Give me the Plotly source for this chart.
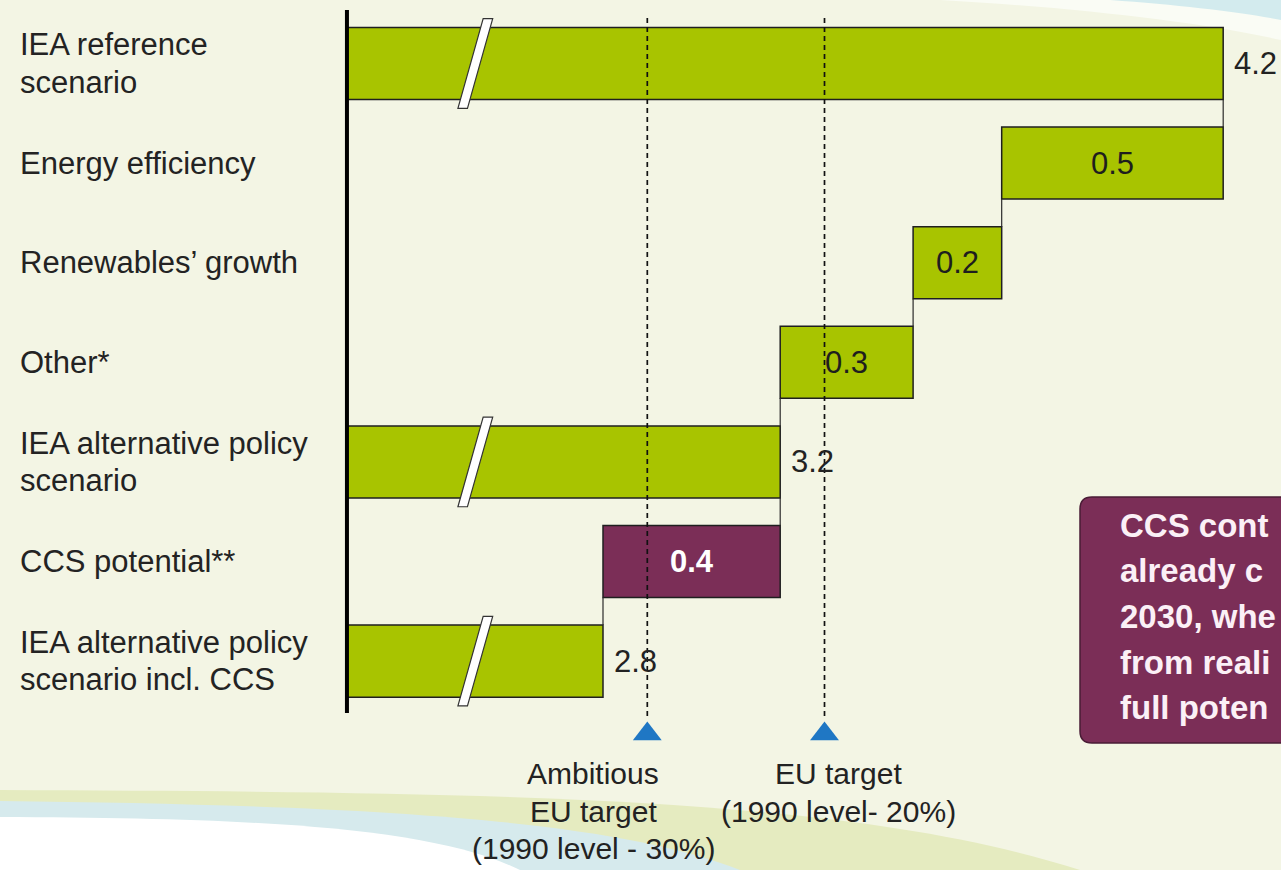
import plotly.graph_objects as go

# ---------------- data ----------------
categories = [
    "IEA reference<br>scenario",
    "Energy efficiency",
    "Renewables’ growth",
    "Other*",
    "IEA alternative policy<br>scenario",
    "CCS potential**",
    "IEA alternative policy<br>scenario incl. CCS",
]
step_kind = ["total", "delta", "delta", "delta", "total", "delta", "total"]
values = [4.2, 0.5, 0.2, 0.3, 3.2, 0.4, 2.8]
value_labels = ["4.2", "0.5", "0.2", "0.3", "3.2", "0.4", "2.8"]
targets = [2.9, 3.3]
target_labels = [
    ["Ambitious", "EU target", "(1990 level - 30%)"],
    ["EU target", "(1990 level- 20%)"],
]
note_lines = ["CCS cont", "already c", "2030, whe", "from reali", "full poten"]

# ---------------- style / layout constants ----------------
W, H = 1281, 870
FONT = "Liberation Sans, Arial, Helvetica, sans-serif"
GREEN = "#A8C400"
PURPLE = "#7B2E57"
BAR_COLORS = [GREEN, GREEN, GREEN, GREEN, GREEN, PURPLE, GREEN]
LABEL_COLORS = ["#1e1e1e"] * 5 + ["#ffffff", "#1e1e1e"]
BG = "#F3F5E4"
AXIS_START = 2.222          # broken axis start
X_RANGE = [1.4388, 4.3305]
Y_RANGE = [8.097, -0.6376]
BAR_W = 0.723
BREAK_X = 2.51


def px(x):
    return x / W


def py(y):
    return 1 - y / H


# ---------------- waterfall geometry ----------------
pos = list(range(len(categories)))
bases, lengths, levels = [], [], []
running = None
for kind, v in zip(step_kind, values):
    if kind == "total":
        bases.append(AXIS_START)
        lengths.append(v - AXIS_START)
        running = v
    else:
        running = running - v
        bases.append(running)
        lengths.append(v)
    levels.append(running)

fig = go.Figure()

fig.add_trace(go.Bar(
    orientation="h", y=pos, x=lengths, base=bases, width=BAR_W,
    marker=dict(color=BAR_COLORS, line=dict(color="#1f1f1f", width=1.5)),
    hoverinfo="skip", showlegend=False,
))

# connectors between steps
cx, cy = [], []
for i in range(len(pos) - 1):
    cx += [levels[i], levels[i], None]
    cy += [pos[i] + BAR_W / 2, pos[i + 1] - BAR_W / 2, None]
fig.add_trace(go.Scatter(x=cx, y=cy, mode="lines",
                         line=dict(color="#2a2a2a", width=1.2),
                         hoverinfo="skip", showlegend=False))

# target triangles
fig.add_trace(go.Scatter(x=targets, y=[6.732] * len(targets), mode="markers",
                         marker=dict(symbol="triangle-up", size=25, color="#1F77C4"),
                         hoverinfo="skip", showlegend=False))

shapes = []
# background decorations
shapes += [
    dict(type="path", xref="paper", yref="paper", layer="below", line=dict(width=0),
         fillcolor="#FAFCF5",
         path=f"M {px(940)},{py(0)} C {px(1080)},{py(8)} {px(1200)},{py(22)} {px(1281)},{py(40)} L {px(1281)},{py(0)} Z"),
    dict(type="path", xref="paper", yref="paper", layer="below", line=dict(width=0),
         fillcolor="#D3EBEE",
         path=f"M {px(1110)},{py(0)} C {px(1180)},{py(5)} {px(1240)},{py(12)} {px(1281)},{py(20)} L {px(1281)},{py(0)} Z"),
    dict(type="path", xref="paper", yref="paper", layer="below", line=dict(width=0),
         fillcolor="#E5EBC0",
         path=f"M {px(0)},{py(790)} C {px(500)},{py(792)} {px(850)},{py(796)} {px(1080)},{py(870)} L {px(0)},{py(870)} Z"),
    dict(type="path", xref="paper", yref="paper", layer="below", line=dict(width=0),
         fillcolor="#D6EAED",
         path=f"M {px(0)},{py(801)} C {px(350)},{py(805)} {px(610)},{py(818)} {px(740)},{py(870)} L {px(0)},{py(870)} Z"),
    dict(type="path", xref="paper", yref="paper", layer="below", line=dict(width=0),
         fillcolor="#FFFFFF",
         path=f"M {px(0)},{py(817)} C {px(250)},{py(818)} {px(430)},{py(826)} {px(520)},{py(870)} L {px(0)},{py(870)} Z"),
]

# axis line
shapes.append(dict(type="line", xref="x", yref="paper", x0=AXIS_START, x1=AXIS_START,
                   y0=py(713), y1=py(10), line=dict(color="#000000", width=4), layer="above"))

# dashed target lines
for t in targets:
    shapes.append(dict(type="line", xref="x", yref="paper", x0=t, x1=t,
                       y0=py(716), y1=py(14), line=dict(color="#111111", width=1.7, dash="5px,4px"),
                       layer="above"))

# break marks on total bars
for i, kind in enumerate(step_kind):
    if kind != "total":
        continue
    yb, yt = pos[i] + 0.45, pos[i] - 0.45
    path = (f"M {BREAK_X - 0.0375},{yb} L {BREAK_X - 0.0160},{yb} "
            f"L {BREAK_X + 0.0410},{yt} L {BREAK_X + 0.0195},{yt} Z")
    shapes.append(dict(type="path", xref="x", yref="y", path=path, fillcolor="#FFFFFF",
                       line=dict(color="#333333", width=1.2), layer="above"))

# CCS note box (rounded)
bx0, by0, bx1, by1, r = 1080, 497, 1310, 743, 12
rx, ry = r, r
box_path = (f"M {px(bx0 + rx)},{py(by0)} L {px(bx1)},{py(by0)} L {px(bx1)},{py(by1)} "
            f"L {px(bx0 + rx)},{py(by1)} Q {px(bx0)},{py(by1)} {px(bx0)},{py(by1 - ry)} "
            f"L {px(bx0)},{py(by0 + ry)} Q {px(bx0)},{py(by0)} {px(bx0 + rx)},{py(by0)} Z")
shapes.append(dict(type="path", xref="paper", yref="paper", path=box_path, fillcolor=PURPLE,
                   line=dict(color="#4A1C36", width=1.5), layer="above"))

annotations = []
# category labels (one annotation per line for tight spacing)
LINE_SP = 37.5
for i, cat in enumerate(categories):
    lines = cat.split("<br>")
    n = len(lines)
    for k, line in enumerate(lines):
        off = (k - (n - 1) / 2) * LINE_SP
        annotations.append(dict(x=px(18), xref="paper", y=pos[i], yref="y", yshift=-off,
                                text=line, showarrow=False, xanchor="left", yanchor="middle",
                                font=dict(family=FONT, size=31, color="#232323")))

# value labels
for i, kind in enumerate(step_kind):
    if kind == "total":
        annotations.append(dict(x=values[i], xref="x", y=pos[i], yref="y", xshift=9,
                                text=value_labels[i], showarrow=False, xanchor="left",
                                yanchor="middle", font=dict(family=FONT, size=31, color="#222222")))
    else:
        txt = value_labels[i]
        if LABEL_COLORS[i] == "#ffffff":
            txt = f"<b>{txt}</b>"
        annotations.append(dict(x=bases[i] + lengths[i] / 2, xref="x", y=pos[i], yref="y",
                                text=txt, showarrow=False, xanchor="center", yanchor="middle",
                                font=dict(family=FONT, size=31, color=LABEL_COLORS[i])))

# target labels
label_xshift = [-54, 14]
label_y = [773, 811, 848]
for j, t in enumerate(targets):
    for k, line in enumerate(target_labels[j]):
        annotations.append(dict(x=t, xref="x", y=py(label_y[k]), yref="paper",
                                xshift=label_xshift[j], text=line, showarrow=False,
                                xanchor="center", yanchor="middle",
                                font=dict(family=FONT, size=30, color="#222222")))

# note text
for k, line in enumerate(note_lines):
    annotations.append(dict(x=px(1118), xref="paper", y=py(525 + k * 45.7), yref="paper",
                            text=f"<b>{line}</b>", showarrow=False, xanchor="left",
                            yanchor="middle", font=dict(family=FONT, size=33, color="#FBF0F6")))

fig.update_layout(
    width=W, height=H,
    margin=dict(l=0, r=0, t=0, b=0),
    paper_bgcolor=BG, plot_bgcolor="rgba(0,0,0,0)",
    showlegend=False,
    xaxis=dict(range=X_RANGE, visible=False, fixedrange=True),
    yaxis=dict(range=Y_RANGE, visible=False, fixedrange=True),
    shapes=shapes, annotations=annotations,
    barmode="overlay",
)

fig.write_html("out.html", config={"displayModeBar": False})
